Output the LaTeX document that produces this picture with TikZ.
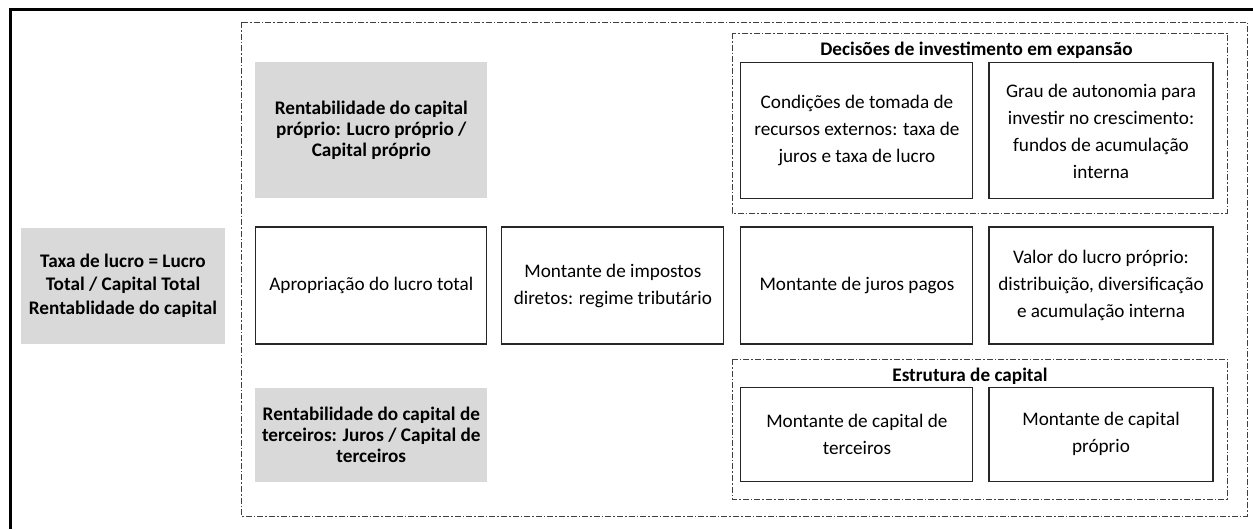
\documentclass[tikz,border=0pt]{standalone}
\usepackage{fontspec}
\setmainfont{Carlito}
\usetikzlibrary{positioning}
\tikzset{main node/.style={rectangle,draw=black!85,line width=0.8pt,fill=white,align=center,inner sep=2pt,font=\fontsize{14.4}{20.25}\selectfont}}
\tikzset{gray node/.style={rectangle,fill=black!15,align=center,inner sep=2pt,font=\fontsize{14.4}{15.75}\selectfont\bfseries}}
\tikzset{group line/.style={draw=black!75,line width=0.75pt,dash pattern=on 4.5pt off 1.5pt on 1.2pt off 1.5pt}}
\tikzset{title node/.style={anchor=base,inner sep=0pt,font=\fontsize{14.4}{17}\selectfont\bfseries}}

\begin{document}
\begin{tikzpicture}[x=0.75pt,y=-0.75pt]
    \useasboundingbox (0,0) rectangle (1253,529);
    \draw[line width=2.25pt] (10,529) -- (10,9.5) -- (1253,9.5);
    \draw[group line] (241,22) rectangle (1247,516);
    \draw[group line] (732,33) rectangle (1227,213);
    \draw[group line] (732,359) rectangle (1227,499);

    \node[gray node,minimum width=153pt,minimum height=87pt,font=\fontsize{14.4}{17.6}\selectfont\bfseries] (1) at (123,285.5) {Taxa de lucro = Lucro\\Total / Capital Total\\Rentablidade do capital};
    \node[main node,minimum width=173.25pt,minimum height=87.75pt] (2) [right = 22.5pt of 1] {Apropriação do lucro total};
    \node[main node,minimum width=166.5pt,minimum height=87.75pt] (3) [right = 10.5pt of 2] {Montante de impostos\\diretos: regime tributário};
    \node[main node,minimum width=174pt,minimum height=87.75pt] (4) [right = 12pt of 3] {Montante de juros pagos};
    \node[main node,minimum width=168pt,minimum height=87.75pt] (5) [right = 11.25pt of 4] {Valor do lucro próprio:\\distribuição, diversificação\\e acumulação interna};

    \node[gray node,minimum width=174pt,minimum height=102pt] (6) [above = 21pt of 2] {Rentabilidade do capital\\próprio: Lucro próprio /\\Capital próprio};
    \node[main node,minimum width=174pt,minimum height=102pt] (7) [above = 20.25pt of 4] {Condições de tomada de\\recursos externos: taxa de\\juros e taxa de lucro};
    \node[main node,minimum width=168pt,minimum height=102pt] (8) [above = 20.25pt of 5] {Grau de autonomia para\\investir no crescimento:\\fundos de acumulação\\interna};

    \node[gray node,minimum width=174pt,minimum height=70.5pt] (9) [below = 32.25pt of 2] {Rentabilidade do capital de\\terceiros: Juros / Capital de\\terceiros};
    \node[main node,minimum width=174pt,minimum height=70.5pt] (10) [below = 31.5pt of 4] {Montante de capital de\\terceiros};
    \node[main node,minimum width=168pt,minimum height=70.5pt] (11) [below = 31.5pt of 5] {Montante de capital\\próprio};

    \node[title node] (12) at (976.5,55) {Decisões de investimento em expansão};
    \node[title node] (13) at (970,381.7) {Estrutura de capital};
\end{tikzpicture}
\end{document}
